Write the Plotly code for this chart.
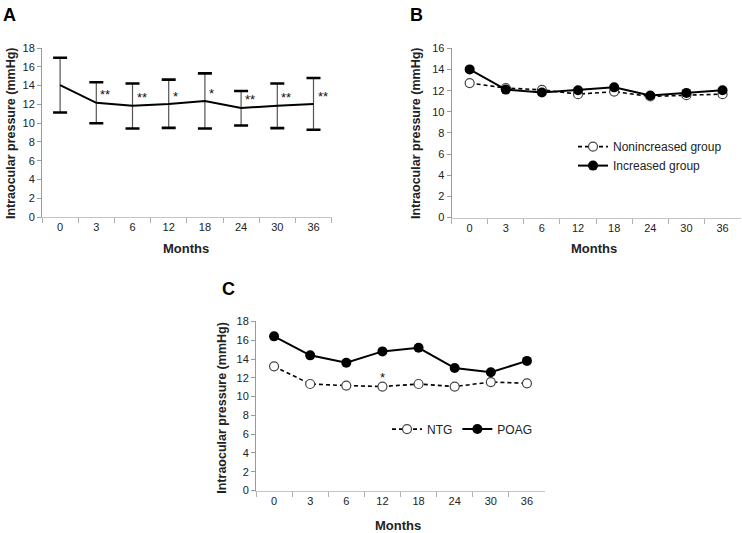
import plotly.graph_objects as go

W, H = 742, 533

months = ["0", "3", "6", "12", "18", "24", "30", "36"]

# Panel A: mean IOP with upper/lower SD limits
a_mean = [14.05, 12.17, 11.86, 12.04, 12.35, 11.62, 11.86, 12.04]
a_upper = [16.96, 14.36, 14.22, 14.64, 15.30, 13.42, 14.22, 14.81]
a_lower = [11.13, 9.99, 9.43, 9.50, 9.43, 9.75, 9.47, 9.30]
a_sig = ["", "**", "**", "*", "*", "**", "**", "**"]

# Panel B
b_nonincreased = [12.72, 12.25, 12.07, 11.67, 11.91, 11.45, 11.57, 11.67]
b_increased = [14.01, 12.10, 11.82, 12.04, 12.31, 11.54, 11.79, 12.04]

# Panel C
c_ntg = [13.22, 11.34, 11.17, 11.07, 11.34, 11.07, 11.55, 11.41]
c_poag = [16.41, 14.39, 13.60, 14.81, 15.19, 13.04, 12.59, 13.80]
c_sig = ["", "", "", "*", "", "", "", ""]

FONT = "Arial, Liberation Sans, sans-serif"
TXT = "#222222"
AX = "#9a9a9a"


def px_x(a, b):
    return [a / W, b / W]


def px_y(top, bottom):
    return [(H - bottom) / H, (H - top) / H]


fig = go.Figure()

# ---- Panel A ----
err_plus = [u - m for u, m in zip(a_upper, a_mean)]
err_minus = [m - l for m, l in zip(a_mean, a_lower)]
fig.add_trace(go.Scatter(
    x=months, y=a_mean, mode="lines", xaxis="x", yaxis="y",
    line=dict(color="black", width=2), showlegend=False,
    error_y=dict(type="data", array=err_plus, arrayminus=err_minus,
                 color="#555555", thickness=1.2, width=0),
))
fig.add_trace(go.Scatter(
    x=months + months, y=a_upper + a_lower, mode="markers", xaxis="x", yaxis="y",
    marker=dict(symbol="line-ew", size=10, line=dict(color="black", width=2.6)),
    showlegend=False,
))

# ---- Panel B ----
fig.add_trace(go.Scatter(
    x=months, y=b_nonincreased, mode="lines+markers", name="Nonincreased group",
    xaxis="x2", yaxis="y2", legend="legend",
    line=dict(color="black", width=1.6, dash="4px,3px"),
    marker=dict(symbol="circle", size=9, color="white", line=dict(color="#444", width=1.2)),
))
fig.add_trace(go.Scatter(
    x=months, y=b_increased, mode="lines+markers", name="Increased group",
    xaxis="x2", yaxis="y2", legend="legend",
    line=dict(color="black", width=2),
    marker=dict(symbol="circle", size=10, color="black"),
))

# ---- Panel C ----
fig.add_trace(go.Scatter(
    x=months, y=c_ntg, mode="lines+markers", name="NTG",
    xaxis="x3", yaxis="y3", legend="legend2",
    line=dict(color="black", width=1.6, dash="4px,3px"),
    marker=dict(symbol="circle", size=9, color="white", line=dict(color="#444", width=1.2)),
))
fig.add_trace(go.Scatter(
    x=months, y=c_poag, mode="lines+markers", name="POAG",
    xaxis="x3", yaxis="y3", legend="legend2",
    line=dict(color="black", width=2),
    marker=dict(symbol="circle", size=10, color="black"),
))


def xax(domain, anchor):
    return dict(domain=domain, anchor=anchor, type="category", range=[-0.5, 7.5],
                showline=True, linecolor="#c4c4c4", linewidth=1,
                ticks="outside", tickson="boundaries", ticklen=5, tickcolor="#b0b0b0",
                showgrid=False, zeroline=False,
                tickfont=dict(family=FONT, size=11, color=TXT))


def yax(domain, anchor, top):
    return dict(domain=domain, anchor=anchor, range=[0, top], dtick=2,
                showline=True, linecolor=AX, linewidth=1,
                ticks="outside", ticklen=4, tickcolor=AX,
                showgrid=False, zeroline=False,
                tickfont=dict(family=FONT, size=11, color=TXT))


ann = []
# significance stars (category axes: annotation x given as category index)
for i, (y, s) in enumerate(zip(a_mean, a_sig)):
    if s:
        ann.append(dict(x=i, y=y, xref="x", yref="y", text=s, showarrow=False,
                        xanchor="left", yanchor="middle", xshift=2, yshift=8,
                        font=dict(family=FONT, size=13, color="#111111")))
for i, (y, s) in enumerate(zip(c_ntg, c_sig)):
    if s:
        ann.append(dict(x=i, y=y, xref="x3", yref="y3", text=s, showarrow=False,
                        xanchor="center", yanchor="middle", yshift=9,
                        font=dict(family=FONT, size=13, color="#111111")))

# panel letters
for lx, ly, t in [(9, 9, "A"), (416, 9, "B"), (228, 290, "C")]:
    ann.append(dict(x=lx / W, y=1 - ly / H, xref="paper", yref="paper", text="<b>%s</b>" % t,
                    showarrow=False, xanchor="center", yanchor="middle",
                    font=dict(family=FONT, size=18, color="black")))

# axis titles
for cx, cy in [(11, 130), (416, 130), (222, 411)]:
    ann.append(dict(x=cx / W, y=1 - cy / H, xref="paper", yref="paper",
                    text="<b>Intraocular pressure (mmHg)</b>", textangle=-90,
                    showarrow=False, xanchor="center", yanchor="middle",
                    font=dict(family=FONT, size=12.5, color=TXT)))
for cx, cy in [(186, 248), (594, 248), (398, 531)]:
    ann.append(dict(x=cx / W, y=1 - cy / H, xref="paper", yref="paper",
                    text="<b>Months</b>", showarrow=False,
                    xanchor="center", yanchor="middle",
                    font=dict(family=FONT, size=13, color=TXT)))

fig.update_layout(
    width=W, height=H, margin=dict(l=0, r=0, t=0, b=0),
    paper_bgcolor="white", plot_bgcolor="white",
    font=dict(family=FONT, color=TXT),
    xaxis=xax(px_x(42, 331.6), "y"),
    yaxis=yax(px_y(43, 216), "x", 18),
    xaxis2=xax(px_x(451.6, 740.6), "y2"),
    yaxis2=yax(px_y(43.3, 216.5), "x2", 16),
    xaxis3=xax(px_x(256, 545), "y3"),
    yaxis3=yax(px_y(322.7, 495.7), "x3", 18),
    legend=dict(x=573 / W, y=1 - 129 / H, xanchor="left", yanchor="top",
                orientation="v", bgcolor="rgba(0,0,0,0)",
                font=dict(family=FONT, size=12, color=TXT), tracegroupgap=0),
    legend2=dict(x=387 / W, y=1 - 418 / H, xanchor="left", yanchor="top",
                 orientation="h", bgcolor="rgba(0,0,0,0)",
                 font=dict(family=FONT, size=12, color=TXT)),
    annotations=ann,
)

fig.write_html("out.html", config={"displayModeBar": False},
               post_script="document.body.style.margin='0';document.body.style.overflow='hidden';")
